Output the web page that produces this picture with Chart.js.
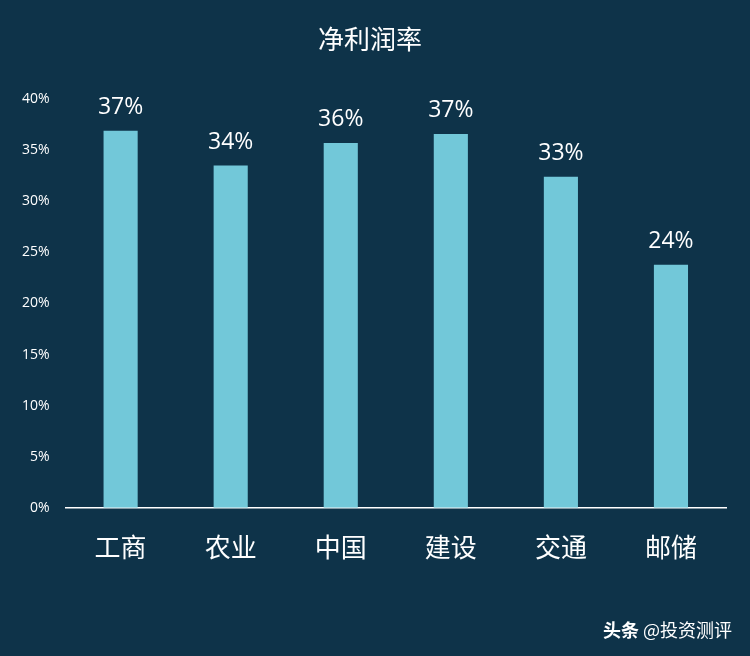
<!DOCTYPE html>
<html><head><meta charset="utf-8">
<script src="https://cdn.jsdelivr.net/npm/chart.js@4"></script>
<style>
html,body{margin:0;padding:0;background:#0e3349;}
#wrap{position:relative;width:750px;height:656px;}
#wm{position:absolute;right:18px;bottom:14px;color:#fff;font:18px "Noto Sans CJK SC";}
#wm b{font-weight:bold;}
</style></head><body>
<div id="wrap"><canvas id="c" width="750" height="656"></canvas><div id="wm"><b>头条</b> @投资测评</div></div>
<script>
const categories=["工商","农业","中国","建设","交通","邮储"];
const values=[36.9,33.5,35.7,36.6,32.4,23.8];
const labels=["37%","34%","36%","37%","33%","24%"];
const tickLabels=["0%","5%","10%","15%","20%","25%","30%","35%","40%"];
const lbl={id:'lbl',afterDatasetsDraw(ch){const c=ch.ctx;const m=ch.getDatasetMeta(0);c.save();c.fillStyle='#fff';c.font='23px "Open Sans", "Noto Sans CJK SC"';c.textAlign='center';c.textBaseline='bottom';m.data.forEach((b,i)=>c.fillText(labels[i],b.x,b.y-12));c.restore();}};
new Chart(document.getElementById('c'),{type:'bar',
data:{labels:categories,datasets:[{data:values,backgroundColor:'#72c8d9',barPercentage:0.62,categoryPercentage:0.5}]},
options:{responsive:false,animation:false,devicePixelRatio:1,
layout:{padding:{left:14,right:24,top:10,bottom:77}},
plugins:{legend:{display:false},tooltip:{enabled:false},
title:{display:true,text:'净利润率',color:'#fff',font:{family:'"Noto Sans CJK SC"',size:26,weight:'normal'},padding:{top:14,bottom:44}}},
scales:{x:{grid:{display:false},border:{color:'#ffffff',width:1.5},ticks:{color:'#fff',font:{family:'"Noto Sans CJK SC"',size:26},padding:16}},
y:{min:0,max:40,grid:{display:false},border:{display:false},ticks:{stepSize:5,color:'#fff',font:{family:'"Open Sans"',size:14},padding:8,callback:(v,i)=>tickLabels[i]}}}},
plugins:[lbl]});
</script></body></html>
